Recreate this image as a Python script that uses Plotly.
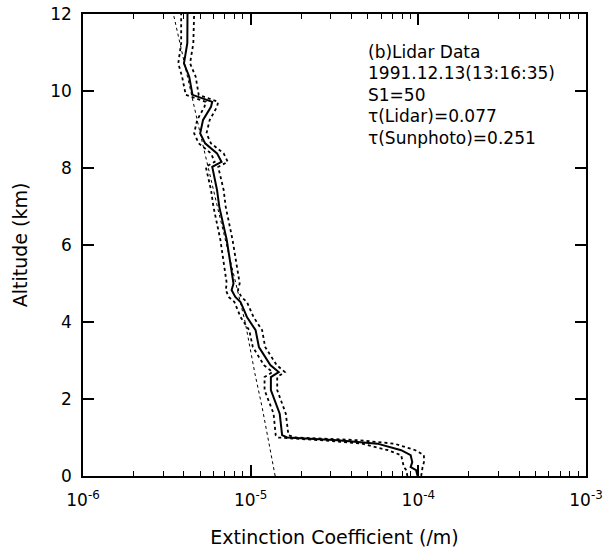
import plotly.graph_objects as go

# Lidar retrieved extinction profile (solid) with error bounds (dotted)
altitude_km = [0.00, 0.15, 0.23, 0.36, 0.54, 0.67, 0.84, 0.93, 1.00, 1.06, 1.62, 2.23, 2.57, 2.70, 2.88,
               3.35, 3.79, 4.13, 4.52, 4.65, 4.83, 5.00, 6.13, 6.99, 7.43, 8.03, 8.16, 8.38, 8.64, 8.90,
               9.25, 9.59, 9.72, 9.90, 10.37, 10.72, 11.24, 12.00]
ext_lidar = [9.9e-5, 9.7e-5, 9.0e-5, 9.2e-5, 9.0e-5, 7.9e-5, 5.7e-5, 3.3e-5, 1.65e-5, 1.54e-5, 1.49e-5,
             1.32e-5, 1.32e-5, 1.47e-5, 1.31e-5, 1.12e-5, 1.07e-5, 9.5e-6, 8.7e-6, 8.1e-6, 7.7e-6, 7.9e-6,
             7.2e-6, 6.5e-6, 6.3e-6, 5.9e-6, 6.7e-6, 6.3e-6, 5.35e-6, 5.0e-6, 5.2e-6, 5.8e-6, 5.9e-6,
             4.5e-6, 4.3e-6, 4.0e-6, 4.19e-6, 4.2e-6]
ext_lower = [8.6e-5, 8.5e-5, 8.2e-5, 8.1e-5, 7.9e-5, 6.6e-5, 4.6e-5, 2.6e-5, 1.45e-5, 1.41e-5, 1.37e-5,
             1.21e-5, 1.21e-5, 1.35e-5, 1.20e-5, 1.03e-5, 9.8e-6, 8.7e-6, 8.0e-6, 7.4e-6, 7.1e-6, 7.2e-6,
             6.6e-6, 6.0e-6, 5.8e-6, 5.4e-6, 6.1e-6, 5.8e-6, 4.9e-6, 4.6e-6, 4.8e-6, 5.3e-6, 5.4e-6,
             4.1e-6, 3.9e-6, 3.7e-6, 3.85e-6, 3.85e-6]
ext_upper = [1.04e-4, 1.05e-4, 1.06e-4, 1.08e-4, 1.08e-4, 9.6e-5, 7.2e-5, 4.4e-5, 1.85e-5, 1.68e-5, 1.62e-5,
             1.44e-5, 1.44e-5, 1.60e-5, 1.43e-5, 1.22e-5, 1.17e-5, 1.04e-5, 9.5e-6, 8.8e-6, 8.4e-6, 8.6e-6,
             7.8e-6, 7.1e-6, 6.9e-6, 6.4e-6, 7.3e-6, 6.9e-6, 5.8e-6, 5.45e-6, 5.7e-6, 6.3e-6, 6.4e-6,
             4.9e-6, 4.7e-6, 4.35e-6, 4.55e-6, 4.6e-6]

# Molecular (Rayleigh) extinction profile (fine dotted)
model_alt_km = [0.00, 0.93, 1.79, 2.66, 3.40, 3.97, 6.91, 8.90, 12.00]
model_ext = [1.40e-5, 1.28e-5, 1.17e-5, 1.06e-5, 9.8e-6, 9.3e-6, 6.4e-6, 5.0e-6, 3.46e-6]

x_tickvals = [1e-6, 1e-5, 1e-4, 1e-3]
x_ticktext = ["10<sup>-6</sup>", "10<sup>-5</sup>", "10<sup>-4</sup>", "10<sup>-3</sup>"]
minor_multipliers = [2, 3, 4, 5, 6, 7, 8, 9]
x_minor_tickvals = [m * d for d in x_tickvals[:-1] for m in minor_multipliers]
y_ticks = [0, 2, 4, 6, 8, 10, 12]
info_lines = ["(b)Lidar Data", "1991.12.13(13:16:35)", "S1=50", "τ(Lidar)=0.077", "τ(Sunphoto)=0.251"]

FONT = "DejaVu Sans, Liberation Sans, Arial, sans-serif"
X_RANGE = [-6, -3]

fig = go.Figure()
fig.add_trace(go.Scatter(x=model_ext, y=model_alt_km, mode="lines", xaxis="x2",
                         line=dict(color="black", width=1, dash="dot"), showlegend=False))
fig.add_trace(go.Scatter(x=ext_lower, y=altitude_km, mode="lines",
                         line=dict(color="black", width=1.8, dash="dot"), showlegend=False))
fig.add_trace(go.Scatter(x=ext_upper, y=altitude_km, mode="lines",
                         line=dict(color="black", width=1.8, dash="dot"), showlegend=False))
fig.add_trace(go.Scatter(x=ext_lidar, y=altitude_km, mode="lines",
                         line=dict(color="black", width=2), showlegend=False))

line_h = 21.5 / 461.7
for i, t in enumerate(info_lines):
    fig.add_annotation(text=t, xref="paper", yref="paper", x=0.5626, y=(475.7 - 51.7) / 461.7 - i * line_h,
                       xanchor="left", yanchor="middle", showarrow=False,
                       font=dict(family=FONT, size=17, color="black"))

fig.update_layout(
    width=603, height=549,
    margin=dict(l=83, r=17, t=14, b=73),
    paper_bgcolor="white", plot_bgcolor="white",
    font=dict(family=FONT, size=16, color="black"),
    xaxis=dict(
        type="log", range=X_RANGE, tickmode="array", tickvals=x_tickvals, ticktext=x_ticktext,
        showline=True, linecolor="black", linewidth=1.5, mirror="ticks",
        ticks="inside", ticklen=11, tickwidth=1.5, tickcolor="black",
        showgrid=False, zeroline=False, automargin=False, ticklabelstandoff=8,
        ticklabeloverflow="allow",
        tickfont=dict(family=FONT, size=17),
        title=dict(text="Extinction Coefficient (/m)", font=dict(family=FONT, size=19), standoff=22),
    ),
    xaxis2=dict(
        type="log", range=X_RANGE, overlaying="x", anchor="y", side="bottom",
        tickmode="array", tickvals=x_minor_tickvals, showticklabels=False,
        ticks="inside", ticklen=5, tickwidth=1.2, tickcolor="black", mirror="ticks",
        showline=False, showgrid=False, zeroline=False, automargin=False,
    ),
    yaxis=dict(
        range=[0, 12], tickvals=y_ticks,
        showline=True, linecolor="black", linewidth=1.5, mirror="ticks",
        ticks="inside", ticklen=11, tickwidth=1.5, tickcolor="black",
        showgrid=False, zeroline=False, automargin=False, ticklabelstandoff=6,
        tickfont=dict(family=FONT, size=17),
        title=dict(text="Altitude (km)", font=dict(family=FONT, size=19), standoff=18),
    ),
)

fig.write_html("out.html")
